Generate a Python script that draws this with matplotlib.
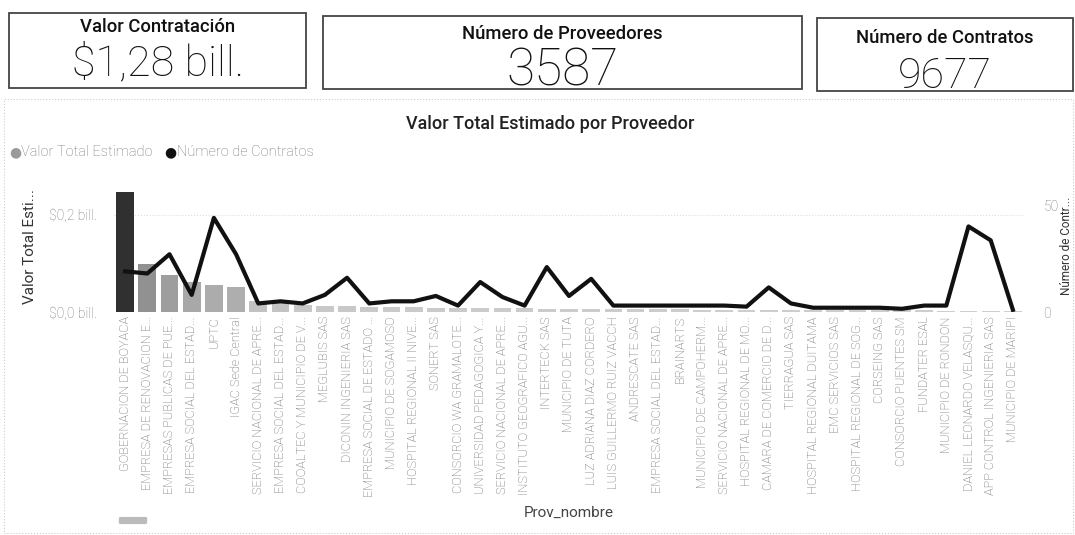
import matplotlib.pyplot as plt
from matplotlib.patches import Rectangle, FancyBboxPatch
import numpy as np

W, H = 1075, 535

# datos de las tarjetas
tarjetas = ["Valor Contratación", "Número de Proveedores", "Número de Contratos"]
valores_tarjetas = ["$1,28 bill.", "3587", "9677"]

proveedores = [
    "GOBERNACION DE BOYACA", "EMPRESA DE RENOVACION E...", "EMPRESAS PUBLICAS DE PUE...",
    "EMPRESA SOCIAL DEL ESTAD...", "UPTC", "IGAC Sede Central",
    "SERVICIO NACIONAL DE APRE...", "EMPRESA SOCIAL DEL ESTAD...", "COOALTEC Y MUNICIPIO DE V...",
    "MEGLUBIS SAS", "DICONIN INGENIERIA SAS", "EMPRESA SOCIAL DE ESTADO ...",
    "MUNICIPIO DE SOGAMOSO", "HOSPITAL REGIONAL II NIVE...", "SONERT SAS",
    "CONSORCIO WA GRAMALOTE...", "UNIVERSIDAD PEDAGOGICA Y...", "SERVICIO NACIONAL DE APRE...",
    "INSTITUTO GEOGRAFICO AGU...", "INTERTECK SAS", "MUNICIPIO DE TUTA",
    "LUZ ADRIANA DIAZ CORDERO", "LUIS GUILLERMO RUIZ VACCH", "ANDRESCATE SAS",
    "EMPRESA SOCIAL DEL ESTAD...", "BRAINARTS", "MUNICIPIO DE CAMPOHERM...",
    "SERVICIO NACIONAL DE APRE...", "HOSPITAL REGIONAL DE MO...", "CAMARA DE COMERCIO DE D...",
    "TIERRAGUA SAS", "HOSPITAL REGIONAL DUITAMA", "EMC SERVICIOS SAS",
    "HOSPITAL REGIONAL DE SOG...", "CORSEING SAS", "CONSORCIO PUENTES SM",
    "FUNDATER ESAL", "MUNICIPIO DE RONDON", "DANIEL LEONARDO VELASQU...",
    "APP CONTROL INGENIERIA SAS", "MUNICIPIO DE MARIPI",
]

# valor total estimado (billones)
valor_total = [
    0.248, 0.098, 0.077, 0.062, 0.056, 0.052,
    0.022, 0.020, 0.014, 0.013, 0.012, 0.011,
    0.010, 0.010, 0.009, 0.009, 0.008, 0.008,
    0.008, 0.007, 0.007, 0.007, 0.006, 0.006,
    0.006, 0.006, 0.005, 0.005, 0.005, 0.005,
    0.005, 0.004, 0.004, 0.004, 0.004, 0.004,
    0.004, 0.003, 0.003, 0.003, 0.003,
]

num_contratos = [
    19, 18, 27, 8, 44, 27,
    4, 5, 4, 8, 16, 4,
    5, 5, 7.5, 3, 14, 7,
    3, 21, 7.5, 15.5, 3, 3,
    3, 3, 3, 3, 2.5, 11.5,
    4, 2, 2, 2, 2, 1.5,
    3, 3, 40, 33.5, 1,
]


def fx(x):
    return x / W


def fy(y):
    return 1 - y / H


fig = plt.figure(figsize=(W / 100, H / 100), dpi=100)
fig.patch.set_facecolor("white")

fuente = ["Roboto", "DejaVu Sans"]

# --- tarjetas ---
cajas = [(9, 13, 306, 88), (323, 16, 802, 89), (817, 18, 1073, 91)]
y_titulo = [27, 34, 38]
y_valor = [64, 71, 76]
tam_valor = [31, 37, 31]
for i in range(3):
    x0, y0, x1, y1 = cajas[i]
    fig.patches.append(Rectangle((fx(x0), fy(y1)), fx(x1 - x0), (y1 - y0) / H,
                                 transform=fig.transFigure, fill=False,
                                 edgecolor="#444444", linewidth=1.3))
    cx = (x0 + x1) / 2
    fig.text(fx(cx), fy(y_titulo[i]), tarjetas[i], ha="center", va="center",
             fontsize=13.3, family=fuente, weight="medium", color="#111111")
    fig.text(fx(cx), fy(y_valor[i]), valores_tarjetas[i], ha="center", va="center",
             fontsize=tam_valor[i], family=fuente, weight="light", color="#111111")

# marco del grafico
fig.patches.append(Rectangle((fx(4), fy(533)), fx(1069), 434 / H,
                             transform=fig.transFigure, fill=False,
                             edgecolor="#cccccc", linewidth=0.8, linestyle=":"))

fig.text(fx(550), fy(124), "Valor Total Estimado por Proveedor", ha="center", va="center",
         fontsize=13, weight="medium", family=fuente, color="#222222")

# leyenda
fig.text(fx(9), fy(152), "●", color="#9a9a9a", fontsize=10, va="center")
fig.text(fx(21), fy(152), "Valor Total Estimado", color="#777777", fontsize=10.5,
         family=fuente, weight="light", va="center")
fig.text(fx(164), fy(152), "●", color="#111111", fontsize=10, va="center")
fig.text(fx(177), fy(152), "Número de Contratos", color="#777777", fontsize=10.5,
         family=fuente, weight="light", va="center")

# --- grafico combinado ---
ax = fig.add_axes([fx(114), fy(312), fx(910), 132 / H])
x = np.arange(len(proveedores))
vmax = max(valor_total)
colores = []
for v in valor_total:
    g = (208 - 160 * v / vmax) / 255
    colores.append((g, g, g))
ax.bar(x, valor_total, width=0.8, color=colores, zorder=2)
ax.set_xlim(-0.5, len(proveedores) - 0.5)
ax.set_ylim(0, 0.272)
ax.set_yticks([0.0, 0.2])
ax.set_yticklabels(["$0,0 bill.", "$0,2 bill."], color="#777777", fontsize=10,
                   family=fuente, weight="light")
ax.set_ylabel("Valor Total Esti...", fontsize=11, color="#333333", labelpad=9, family=fuente)
ax.yaxis.grid(True, linestyle=":", color="#dddddd", linewidth=0.8)
ax.set_axisbelow(True)
ax.set_xticks(x)
ax.set_xticklabels(proveedores, rotation=90, fontsize=9.2, color="#666666",
                   family=fuente, weight="light")
ax.set_xlabel("Prov_nombre", fontsize=11, color="#444444", labelpad=6, family=fuente)
ax.tick_params(axis="x", length=0, pad=3)
ax.tick_params(axis="y", length=0, pad=12)
for s in ax.spines.values():
    s.set_visible(False)

ax2 = ax.twinx()
ax2.plot(x, num_contratos, color="#111111", linewidth=3, zorder=3)
ax2.set_ylim(0, 61.7)
ax2.set_yticks([0, 50])
ax2.set_yticklabels(["0", "50"], color="#777777", fontsize=10, family=fuente, weight="light")
ax2.tick_params(length=0, pad=14)
ax2.set_ylabel("Número de Contr...", fontsize=8.5, color="#333333", labelpad=1, family=fuente)
for s in ax2.spines.values():
    s.set_visible(False)

# barra de desplazamiento
fig.patches.append(FancyBboxPatch((fx(121), fy(523)), fx(24), 5 / H,
                                  boxstyle="round,pad=0.002", transform=fig.transFigure,
                                  facecolor="#bbbbbb", edgecolor="none"))

fig.savefig("out.png", dpi=100)
